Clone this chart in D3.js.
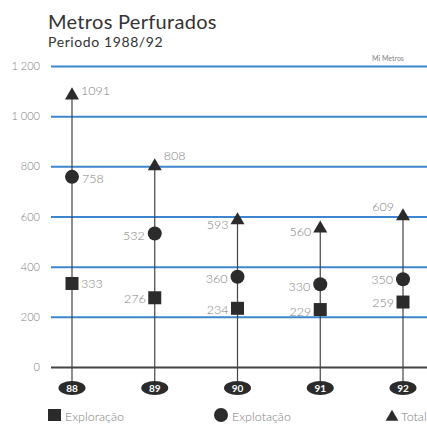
<!DOCTYPE html>
<html>
<head>
<meta charset="utf-8">
<script src="https://cdn.jsdelivr.net/npm/d3@7"></script>
<style>
  html, body { margin: 0; padding: 0; background: #fff; }
  svg { display: block; }
</style>
</head>
<body>
<svg id="chart" width="427" height="425"></svg>
<script>
// Drilled metres per year, 1988-92
const years = ["88", "89", "90", "91", "92"];
const exploracao = [333, 276, 234, 229, 259];
const explotacao = [758, 532, 360, 330, 350];
const total = [1091, 808, 593, 560, 609];
const yTicks = [0, 200, 400, 600, 800, 1000, 1200];
const yTickLabels = ["0", "200", "400", "600", "800", "1 000", "1 200"];

const svg = d3.select("#chart");
const W = 427;
const ink = "#2b2b2b";
const soft = "#808080";
const font = "Lato, 'Open Sans', sans-serif";

const x = d3.scalePoint().domain(years).range([72, 403]);
const y = d3.scaleLinear().domain([0, 1200]).range([367, 66]);

// Title
svg.append("text").attr("x", 48).attr("y", 29)
  .attr("font-family", font).attr("font-size", 20).attr("fill", "#333")
  .attr("letter-spacing", 0.3)
  .text("Metros Perfurados");
svg.append("text").attr("x", 48).attr("y", 47)
  .attr("font-family", font).attr("font-size", 14).attr("fill", "#333")
  .attr("letter-spacing", 0.6)
  .text("Periodo 1988/92");

// unit note
svg.append("text").attr("x", 372).attr("y", 61)
  .attr("font-family", font).attr("font-size", 7).attr("fill", soft)
  .text("Mi Metros");

// Gridlines via axis
const yAxis = d3.axisLeft(y).tickValues(yTicks)
  .tickSize(-(W - 51)).tickFormat((d, i) => yTickLabels[i]).tickPadding(11);
const gAxis = svg.append("g").attr("transform", "translate(51,0)").call(yAxis);
gAxis.select(".domain").remove();
gAxis.selectAll(".tick line")
  .attr("stroke", d => d === 0 ? "#444" : "#3d86cf")
  .attr("stroke-width", 2);
gAxis.selectAll(".tick text")
  .attr("font-family", font).attr("font-size", 11).attr("font-weight", 300)
  .attr("fill", soft);

// Stems from badge to total
const g = svg.append("g");
years.forEach((yr, i) => {
  const cx = x(yr);
  g.append("line")
    .attr("x1", cx).attr("x2", cx)
    .attr("y1", 388).attr("y2", y(total[i]) - 3)
    .attr("stroke", "#444").attr("stroke-width", 1.2);
});

// Markers
const sq = 13;
g.selectAll("rect.expl").data(exploracao).join("rect")
  .attr("x", (d, i) => x(years[i]) - sq / 2)
  .attr("y", d => y(d) - sq / 2)
  .attr("width", sq).attr("height", sq).attr("fill", ink);

g.selectAll("circle.explo").data(explotacao).join("circle")
  .attr("cx", (d, i) => x(years[i])).attr("cy", d => y(d)).attr("r", 7)
  .attr("fill", ink);

const tri = d3.symbol().type(d3.symbolTriangle).size(85);
g.selectAll("path.tot").data(total).join("path")
  .attr("d", tri)
  .attr("transform", (d, i) => `translate(${x(years[i])},${y(d) + 2})`)
  .attr("fill", ink);

// Value labels: side (+1 right, -1 left) and vertical nudge per point
function addLabels(vals, side, dy, offs) {
  g.selectAll(null).data(vals).join("text")
    .attr("x", (d, i) => x(years[i]) + side[i] * offs)
    .attr("y", (d, i) => y(d) + dy[i])
    .attr("text-anchor", (d, i) => side[i] > 0 ? "start" : "end")
    .attr("font-family", font).attr("font-size", 12.5).attr("font-weight", 300)
    .attr("fill", soft)
    .text(d => d);
}
addLabels(exploracao, [1, -1, -1, -1, -1], [5, 5, 6, 6, 5], 9);
addLabels(explotacao, [1, -1, -1, -1, -1], [6, 6, 6, 7, 5], 10);
addLabels(total, [1, 1, -1, -1, -1], [2, -4, 11, 9, -3], 9);

// Year badges
years.forEach(yr => {
  g.append("ellipse").attr("cx", x(yr)).attr("cy", 388)
    .attr("rx", 13.5).attr("ry", 7).attr("fill", ink);
  g.append("text").attr("x", x(yr)).attr("y", 391.5)
    .attr("text-anchor", "middle")
    .attr("font-family", font).attr("font-size", 10).attr("font-weight", 700)
    .attr("fill", "#fff").text(yr);
});

// Legend
const leg = svg.append("g");
const legFont = 12.5;
leg.append("rect").attr("x", 48).attr("y", 409).attr("width", 13).attr("height", 12).attr("fill", ink);
leg.append("text").attr("x", 65).attr("y", 421).attr("font-family", font)
  .attr("font-size", legFont).attr("font-weight", 300).attr("fill", soft).text("Exploração");
leg.append("circle").attr("cx", 221).attr("cy", 415).attr("r", 7).attr("fill", ink);
leg.append("text").attr("x", 232).attr("y", 421).attr("font-family", font)
  .attr("font-size", legFont).attr("font-weight", 300).attr("fill", soft).text("Explotação");
leg.append("path").attr("d", d3.symbol().type(d3.symbolTriangle).size(70))
  .attr("transform", "translate(392,417)").attr("fill", ink);
leg.append("text").attr("x", 401).attr("y", 421).attr("font-family", font)
  .attr("font-size", legFont).attr("font-weight", 300).attr("fill", soft).text("Total");
</script>
</body>
</html>
